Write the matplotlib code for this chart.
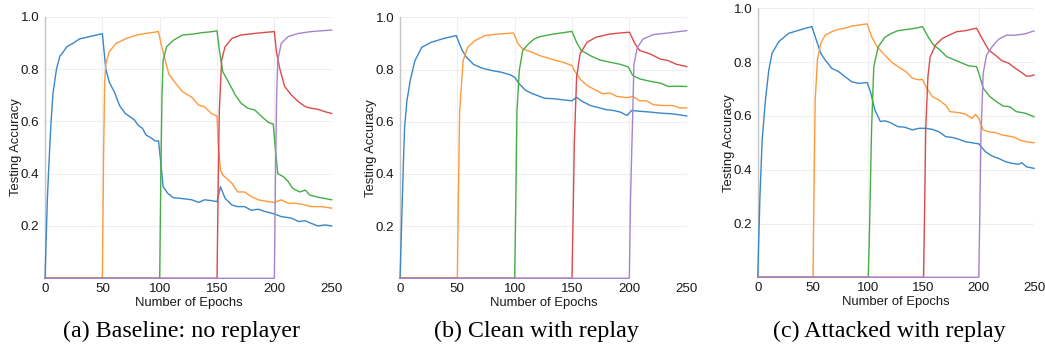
import matplotlib
matplotlib.use("Agg")
import matplotlib.pyplot as plt

# ---------------- data (epochs, testing accuracy) ----------------
# Panel (a) Baseline: no replayer
A_T0_EP = [0, 1, 2, 3, 5, 7, 10, 13, 15, 19, 25, 30, 35, 40, 45, 50, 53, 56, 61, 65, 70, 74, 78, 81, 85, 88, 93, 96, 99,
           101, 103, 107, 112, 117, 123, 128, 134, 139, 145, 150, 153, 157, 163, 168, 174, 180, 186, 192, 200, 206, 215,
           221, 227, 232, 238, 244, 250]
A_T0_ACC = [0.0, 0.15, 0.3, 0.4, 0.58, 0.71, 0.80, 0.85, 0.86, 0.885, 0.90, 0.915, 0.92, 0.925, 0.93, 0.935, 0.80, 0.75,
            0.707, 0.66, 0.63, 0.618, 0.605, 0.586, 0.573, 0.548, 0.535, 0.525, 0.525, 0.44, 0.35, 0.325, 0.308, 0.306,
            0.303, 0.30, 0.29, 0.30, 0.297, 0.293, 0.35, 0.306, 0.28, 0.274, 0.274, 0.26, 0.264, 0.255, 0.246, 0.236,
            0.23, 0.217, 0.22, 0.21, 0.20, 0.204, 0.20]
A_T1_EP = [0, 50, 51, 52, 53, 56, 62, 71, 80, 88, 99, 101, 104, 108, 114, 120, 128, 134, 139, 145, 150, 151, 153, 155,
           163, 168, 174, 180, 186, 195, 200, 206, 212, 218, 224, 232, 241, 250]
A_T1_ACC = [0.0, 0.0, 0.45, 0.75, 0.82, 0.866, 0.898, 0.917, 0.93, 0.936, 0.943, 0.90, 0.847, 0.78, 0.745, 0.713, 0.692,
            0.662, 0.656, 0.63, 0.62, 0.516, 0.414, 0.395, 0.363, 0.33, 0.33, 0.312, 0.30, 0.293, 0.29, 0.30, 0.287,
            0.287, 0.283, 0.274, 0.274, 0.268]
A_T2_EP = [0, 100, 101, 102, 103, 106, 112, 120, 128, 137, 144, 150, 152, 155, 160, 166, 171, 177, 183, 189, 195, 199,
           201, 203, 208, 212, 216, 222, 227, 231, 238, 244, 250]
A_T2_ACC = [0.0, 0.0, 0.40, 0.70, 0.834, 0.885, 0.91, 0.93, 0.933, 0.939, 0.942, 0.946, 0.873, 0.79, 0.75, 0.70, 0.669,
            0.65, 0.643, 0.618, 0.595, 0.59, 0.49, 0.40, 0.388, 0.37, 0.344, 0.33, 0.337, 0.318, 0.31, 0.305, 0.30]
A_T3_EP = [0, 150, 151, 152, 154, 157, 163, 171, 183, 192, 200, 202, 205, 209, 215, 221, 227, 232, 238, 244, 250]
A_T3_ACC = [0.0, 0.0, 0.35, 0.64, 0.834, 0.885, 0.917, 0.93, 0.936, 0.94, 0.943, 0.86, 0.796, 0.733, 0.70, 0.675, 0.656,
            0.65, 0.646, 0.637, 0.63]
A_T4_EP = [0, 200, 201, 202, 203, 206, 212, 221, 232, 241, 250]
A_T4_ACC = [0.0, 0.0, 0.40, 0.70, 0.834, 0.898, 0.924, 0.936, 0.943, 0.946, 0.949]

# Panel (b) Clean with replay
B_T0_EP = [0, 1, 2, 3, 4, 6, 9, 13, 19, 27, 39, 49, 54, 58, 64, 71, 80, 88, 96, 100, 104, 109, 114, 120, 126, 134, 142,
           150, 154, 158, 166, 174, 180, 186, 192, 198, 202, 209, 218, 227, 238, 250]
B_T0_ACC = [0.0, 0.15, 0.3, 0.45, 0.58, 0.68, 0.76, 0.834, 0.885, 0.904, 0.92, 0.93, 0.875, 0.847, 0.82, 0.806, 0.796,
            0.79, 0.78, 0.77, 0.745, 0.722, 0.71, 0.70, 0.69, 0.688, 0.684, 0.68, 0.694, 0.68, 0.662, 0.653, 0.646,
            0.643, 0.637, 0.624, 0.643, 0.64, 0.637, 0.633, 0.63, 0.622]
B_T1_EP = [0, 50, 51, 52, 55, 59, 65, 74, 86, 99, 103, 107, 115, 122, 134, 142, 150, 152, 157, 163, 171, 177, 183, 189,
           198, 203, 209, 215, 221, 230, 238, 244, 250]
B_T1_ACC = [0.0, 0.0, 0.35, 0.64, 0.834, 0.885, 0.91, 0.93, 0.936, 0.94, 0.898, 0.879, 0.866, 0.853, 0.837, 0.828,
            0.815, 0.796, 0.764, 0.739, 0.72, 0.707, 0.71, 0.697, 0.692, 0.697, 0.68, 0.68, 0.665, 0.662, 0.662, 0.653,
            0.653]
B_T2_EP = [0, 100, 101, 102, 104, 107, 112, 117, 122, 134, 150, 154, 158, 166, 174, 183, 192, 199, 203, 209, 218, 227,
           234, 241, 250]
B_T2_ACC = [0.0, 0.0, 0.30, 0.64, 0.796, 0.873, 0.898, 0.917, 0.926, 0.936, 0.946, 0.904, 0.873, 0.853, 0.837, 0.828,
            0.82, 0.81, 0.777, 0.764, 0.755, 0.748, 0.735, 0.736, 0.735]
B_T3_EP = [0, 150, 151, 152, 154, 157, 163, 171, 183, 192, 200, 205, 209, 218, 227, 234, 241, 250]
B_T3_ACC = [0.0, 0.0, 0.25, 0.516, 0.77, 0.86, 0.904, 0.924, 0.936, 0.94, 0.943, 0.898, 0.873, 0.86, 0.84, 0.834, 0.82,
            0.811]
B_T4_EP = [0, 200, 201, 203, 204, 207, 212, 221, 232, 241, 250]
B_T4_ACC = [0.0, 0.0, 0.30, 0.64, 0.82, 0.885, 0.917, 0.934, 0.939, 0.944, 0.949]

# Panel (c) Attacked with replay
C_T0_EP = [0, 1, 2, 4, 7, 10, 13, 19, 28, 40, 49, 54, 57, 61, 67, 73, 79, 85, 91, 99, 102, 106, 111, 115, 120, 124,
           127, 133, 140, 146, 152, 158, 164, 170, 176, 182, 188, 194, 200, 206, 212, 218, 224, 230, 236, 239, 243, 250]
C_T0_ACC = [0.0, 0.15, 0.3, 0.51, 0.66, 0.77, 0.833, 0.876, 0.907, 0.922, 0.932, 0.87, 0.833, 0.808, 0.777, 0.765,
            0.746, 0.727, 0.721, 0.724, 0.69, 0.622, 0.579, 0.582, 0.575, 0.566, 0.56, 0.558, 0.548, 0.554, 0.554, 0.55,
            0.541, 0.523, 0.52, 0.513, 0.504, 0.50, 0.496, 0.467, 0.451, 0.442, 0.43, 0.424, 0.42, 0.426, 0.411, 0.405]
C_T1_EP = [0, 50, 51, 52, 54, 57, 61, 67, 73, 79, 85, 99, 103, 108, 115, 121, 127, 134, 140, 146, 149, 153, 158, 164,
           170, 174, 182, 188, 194, 197, 200, 204, 209, 215, 221, 227, 233, 237, 243, 250]
C_T1_ACC = [0.0, 0.0, 0.35, 0.66, 0.808, 0.87, 0.90, 0.913, 0.922, 0.926, 0.934, 0.942, 0.895, 0.857, 0.826, 0.80,
            0.783, 0.765, 0.74, 0.734, 0.736, 0.703, 0.672, 0.659, 0.64, 0.616, 0.612, 0.607, 0.591, 0.606, 0.591,
            0.548, 0.541, 0.538, 0.529, 0.525, 0.52, 0.51, 0.504, 0.50]
C_T2_EP = [0, 100, 101, 103, 105, 109, 115, 121, 127, 136, 143, 149, 155, 159, 165, 171, 177, 185, 191, 198, 201, 204,
           210, 216, 222, 228, 234, 242, 250]
C_T2_ACC = [0.0, 0.0, 0.15, 0.55, 0.783, 0.857, 0.892, 0.907, 0.917, 0.922, 0.926, 0.932, 0.888, 0.864, 0.845, 0.82,
            0.81, 0.796, 0.786, 0.783, 0.746, 0.703, 0.672, 0.653, 0.637, 0.634, 0.616, 0.61, 0.597]
C_T3_EP = [0, 150, 151, 152, 154, 156, 161, 167, 173, 180, 188, 198, 203, 209, 215, 221, 227, 233, 239, 243, 246, 250]
C_T3_ACC = [0.0, 0.0, 0.25, 0.55, 0.746, 0.82, 0.864, 0.888, 0.90, 0.913, 0.917, 0.926, 0.888, 0.845, 0.826, 0.805,
            0.796, 0.777, 0.761, 0.748, 0.748, 0.752]
C_T4_EP = [0, 200, 201, 202, 204, 207, 212, 218, 225, 233, 242, 250]
C_T4_ACC = [0.0, 0.0, 0.25, 0.535, 0.758, 0.826, 0.857, 0.885, 0.90, 0.90, 0.905, 0.916]

X_TICKS = [0, 50, 100, 150, 200, 250]
Y_TICKS = [0.2, 0.4, 0.6, 0.8, 1.0]
Y_TICK_LABELS = ["0.2", "0.4", "0.6", "0.8", "1.0"]
CAPTIONS = ["(a) Baseline: no replayer", "(b) Clean with replay", "(c) Attacked with replay"]
X_LABEL = "Number of Epochs"
Y_LABEL = "Testing Accuracy"

PANELS = [
    [(A_T0_EP, A_T0_ACC), (A_T1_EP, A_T1_ACC), (A_T2_EP, A_T2_ACC), (A_T3_EP, A_T3_ACC), (A_T4_EP, A_T4_ACC)],
    [(B_T0_EP, B_T0_ACC), (B_T1_EP, B_T1_ACC), (B_T2_EP, B_T2_ACC), (B_T3_EP, B_T3_ACC), (B_T4_EP, B_T4_ACC)],
    [(C_T0_EP, C_T0_ACC), (C_T1_EP, C_T1_ACC), (C_T2_EP, C_T2_ACC), (C_T3_EP, C_T3_ACC), (C_T4_EP, C_T4_ACC)],
]

# ---------------- style / layout ----------------
COLORS = ["#3a87c8", "#ff9a3c", "#45ad45", "#dd4a4b", "#a783cf"]
AX_RECTS = [
    [0.0431, 0.2026, 0.2743, 0.7496],
    [0.3828, 0.2026, 0.2743, 0.7478],
    [0.7251, 0.2054, 0.2644, 0.7708],
]
CAPTION_X = [0.1737, 0.5129, 0.8507]

plt.rcParams["font.family"] = ["Liberation Sans", "DejaVu Sans"]

fig = plt.figure(figsize=(10.45, 3.49), dpi=100)
fig.patch.set_facecolor("white")

for i, (rect, series) in enumerate(zip(AX_RECTS, PANELS)):
    ax = fig.add_axes(rect)
    for j, (ep, acc) in enumerate(series):
        ax.plot(ep, acc, color=COLORS[j], lw=1.0, solid_joinstyle="round", zorder=3 + j, clip_on=False)
    ax.set_xlim(0, 250)
    ax.set_ylim(0, 1.0)
    ax.set_xticks(X_TICKS)
    ax.set_yticks(Y_TICKS)
    ax.set_yticklabels(Y_TICK_LABELS)
    ax.tick_params(axis="both", length=0, labelsize=9.6, colors="#1a1a1a", pad=4)
    ax.tick_params(axis="x", pad=3.5)
    ax.grid(True, color="#efefef", lw=0.8, zorder=0)
    for s in ["top", "right", "bottom"]:
        ax.spines[s].set_visible(False)
    ax.spines["left"].set_color("#c4c4c4")
    ax.spines["left"].set_linewidth(1.0)
    ax.set_xlabel(X_LABEL, fontsize=9.4, color="#1a1a1a", labelpad=1)
    ax.set_ylabel(Y_LABEL, fontsize=9.4, color="#1a1a1a", labelpad=-1)
    ax.set_axisbelow(True)
    fig.text(CAPTION_X[i], 1 - 331 / 349, CAPTIONS[i], ha="center", va="center",
             fontsize=17.3, family=["Liberation Serif", "DejaVu Serif"], color="black")

fig.savefig("out.png", dpi=100, facecolor="white")
